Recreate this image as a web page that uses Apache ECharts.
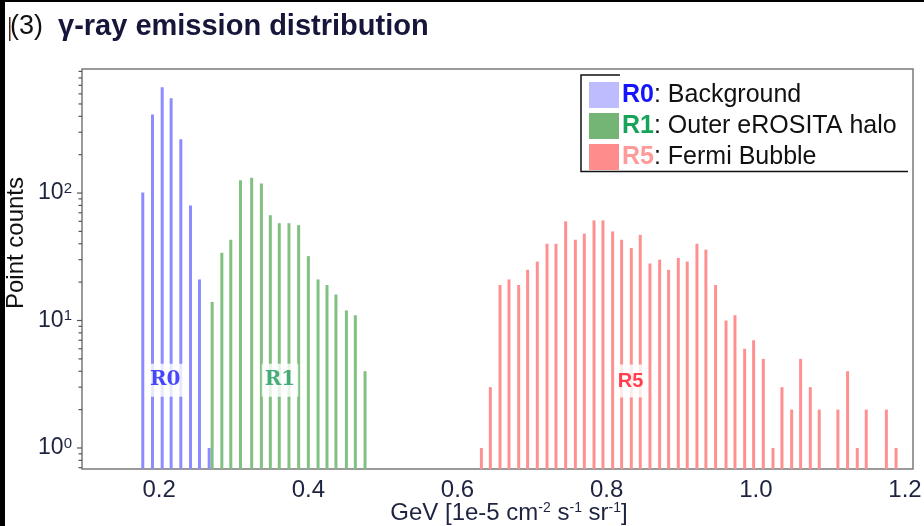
<!DOCTYPE html>
<html>
<head>
<meta charset="utf-8">
<script src="https://cdn.jsdelivr.net/npm/echarts@6/dist/echarts.min.js"></script>
<style>
  html, body { margin: 0; padding: 0; background: #fff; }
  #chart { width: 924px; height: 526px; }
</style>
</head>
<body>
<div id="chart"></div>
<script>
// Histogram bin centres (flux, 1e-5 cm^-2 s^-1 sr^-1) and point counts per region
const r0Bins = [0.178, 0.191, 0.204, 0.216, 0.229, 0.242, 0.254, 0.267];
const r0Counts = [101, 414, 675, 553, 264, 80, 21, 1];

const r1Bins = [0.271, 0.284, 0.296, 0.309, 0.324, 0.337, 0.349, 0.361, 0.374,
                0.387, 0.400, 0.413, 0.425, 0.437, 0.451, 0.463, 0.476];
const r1Counts = [14, 34, 43, 126, 132, 119, 67, 58, 58, 56, 32, 21, 19, 16, 12, 11, 4];

const r5Bins = [0.632, 0.644, 0.657, 0.669, 0.682, 0.694, 0.707, 0.720, 0.732, 0.745,
                0.758, 0.770, 0.783, 0.795, 0.808, 0.820, 0.833, 0.845, 0.858, 0.871,
                0.883, 0.896, 0.908, 0.921, 0.933, 0.946, 0.960, 0.972, 0.985, 0.997,
                1.010, 1.023, 1.035, 1.048, 1.060, 1.073, 1.085, 1.110, 1.123, 1.136,
                1.148, 1.175, 1.188];
const r5Counts = [1, 3, 19, 21, 19, 25, 29, 40, 40, 60,
                  43, 48, 61, 61, 50, 43, 37, 47, 28, 30,
                  25, 31, 29, 40, 36, 19, 10, 11, 6, 7,
                  5, 1, 3, 2, 5, 3, 2, 2, 4, 1,
                  2, 2, 1];

// Axis ticks
const xTicks = [0.2, 0.4, 0.6, 0.8, 1.0, 1.2];
const yMajorTicks = [1, 10, 100];
const yMinorTicks = [0.7, 0.8, 0.9, 2, 3, 4, 5, 6, 7, 8, 9,
                     20, 30, 40, 50, 60, 70, 80, 90, 200, 300, 400, 500, 600, 700, 800, 900];

// Region names, descriptions and in-plot tags
const regionNames = ['R0', 'R1', 'R5'];
const regionDesc = ['Background', 'Outer eROSITA halo', 'Fermi Bubble'];
const tagPositions = [[0.208, 3.4], [0.362, 3.4], [0.832, 3.35]];

const X_MIN = 0.0965, X_MAX = 1.2107;
const Y_MIN = 0.684, Y_MAX = 940;

const barColors = ['#8c8cff', '#80c080', '#ff9090'];
const swatchColors = ['#bcbcff', '#74b474', '#ff8c8c'];
const nameColors = ['#1414ff', '#17a45a', '#ff9a9a'];
const tagColors = ['#1a1aff', '#1a9a5a', '#ff1020'];
const tagFonts = ['DejaVu Serif', 'DejaVu Serif', 'Liberation Sans'];

function pairs(xs, ys) { return xs.map((x, i) => [x, ys[i]]); }

function barRenderer(color) {
  return function (params, api) {
    const p = api.coord([api.value(0), api.value(1)]);
    const cs = params.coordSys;
    const bottom = cs.y + cs.height;
    return {
      type: 'rect',
      shape: { x: p[0] - 1.5, y: p[1], width: 3, height: bottom - p[1] },
      style: { fill: color }
    };
  };
}

function tickRenderer(len) {
  return function (params, api) {
    const p = api.coord([api.value(0), api.value(1)]);
    const x0 = params.coordSys.x;
    return {
      type: 'line',
      shape: { x1: x0 - len, y1: p[1], x2: x0, y2: p[1] },
      style: { stroke: '#555', lineWidth: 1.2 }
    };
  };
}

const seriesData = [pairs(r0Bins, r0Counts), pairs(r1Bins, r1Counts), pairs(r5Bins, r5Counts)];

const series = [];
regionNames.forEach((name, i) => {
  series.push({
    name: name,
    type: 'custom',
    renderItem: barRenderer(barColors[i]),
    encode: { x: 0, y: 1 },
    itemStyle: { color: swatchColors[i] },
    data: seriesData[i],
    silent: true,
    z: 2
  });
});

// Log-spaced ticks on the count axis
series.push({
  name: 'majorTicks', type: 'custom', renderItem: tickRenderer(5), encode: { x: 0, y: 1 },
  data: yMajorTicks.map(v => [X_MIN, v]), silent: true, clip: false, z: 3
});
series.push({
  name: 'minorTicks', type: 'custom', renderItem: tickRenderer(3.5), encode: { x: 0, y: 1 },
  data: yMinorTicks.map(v => [X_MIN, v]), silent: true, clip: false, z: 3
});

// Region tags inside the plot
regionNames.forEach((name, i) => {
  series.push({
    name: 'tag' + name,
    type: 'scatter',
    symbolSize: 0,
    silent: true,
    z: 5,
    data: [{ value: tagPositions[i], name: name }],
    label: {
      show: true,
      position: 'inside',
      formatter: '{b}',
      color: tagColors[i],
      fontFamily: tagFonts[i],
      fontWeight: 'bold',
      fontSize: 20,
      backgroundColor: '#fff',
      padding: [7, 3, 6, 3]
    }
  });
});

const legendRich = { t: { color: '#111', fontSize: 25, fontFamily: 'Liberation Sans' } };
regionNames.forEach((n, i) => {
  legendRich[n] = { color: nameColors[i], fontWeight: 'bold', fontSize: 25, fontFamily: 'Liberation Sans' };
});

const chart = echarts.init(document.getElementById('chart'), null, { renderer: 'canvas' });
chart.setOption({
  animation: false,
  backgroundColor: '#fff',
  title: {
    text: '{n|(3)}{b|γ-ray emission distribution}',
    left: 10,
    top: 12,
    padding: 0,
    textStyle: {
      rich: {
        n: { fontSize: 27, fontWeight: 'normal', color: '#111', fontFamily: 'Liberation Sans', padding: [0, 15, 0, 0] },
        b: { fontSize: 29, fontWeight: 'bold', color: '#16163a', fontFamily: 'Liberation Sans' }
      }
    }
  },
  legend: {
    orient: 'vertical',
    left: 589,
    top: 82,
    padding: 0,
    itemWidth: 30,
    itemHeight: 26,
    itemGap: 5,
    selectedMode: false,
    icon: 'rect',
    data: regionNames.map((n, i) => ({ name: n, icon: 'rect', itemStyle: { color: swatchColors[i] } })),
    formatter: function (name) {
      const i = regionNames.indexOf(name);
      return '{' + name + '|' + name + '}{t|: ' + regionDesc[i] + '}';
    },
    textStyle: { rich: legendRich, padding: [0, 0, 0, -2] }
  },
  grid: {
    left: 82, right: 11, top: 69, bottom: 57,
    show: true,
    borderColor: '#7a7a7a',
    borderWidth: 1.5,
    backgroundColor: 'transparent',
    outerBoundsMode: 'none'
  },
  xAxis: {
    type: 'value',
    min: X_MIN,
    max: X_MAX,
    splitLine: { show: false },
    axisLine: { show: false },
    axisTick: { show: false },
    axisLabel: {
      margin: 9,
      fontSize: 24,
      color: '#1e2440',
      fontFamily: 'Liberation Sans',
      formatter: function (v) {
        const hit = xTicks.find(t => Math.abs(t - v) < 1e-6);
        return hit === undefined ? '' : hit.toFixed(1);
      }
    },
    name: 'GeV [1e-5 cm{s|-2} s{s|-1} sr{s|-1}]',
    nameLocation: 'middle',
    nameGap: 32,
    nameMoveOverlap: false,
    nameTextStyle: {
      fontSize: 24,
      color: '#1e2440',
      fontFamily: 'Liberation Sans',
      padding: [0, 0, 0, 23],
      rich: {
        s: { fontSize: 14, verticalAlign: 'top', lineHeight: 14, padding: [0, 0, 8, 0], fontFamily: 'Liberation Sans', color: '#1e2440' }
      }
    }
  },
  yAxis: {
    type: 'log',
    logBase: 10,
    min: Y_MIN,
    max: Y_MAX,
    splitLine: { show: false },
    axisLine: { show: false },
    axisTick: { show: false },
    minorTick: { show: false },
    axisLabel: {
      margin: 10,
      color: '#1e2440',
      fontFamily: 'Liberation Sans',
      formatter: function (v) {
        const lg = Math.log10(v);
        const e = Math.round(lg);
        if (Math.abs(lg - e) > 1e-6 || yMajorTicks.indexOf(Math.pow(10, e)) < 0) return '';
        return '{b|10}{s|' + e + '}';
      },
      rich: {
        b: { fontSize: 23, color: '#1e2440', fontFamily: 'Liberation Sans' },
        s: { fontSize: 15, color: '#1e2440', fontFamily: 'Liberation Sans', verticalAlign: 'top', padding: [0, 0, 9, 0] }
      }
    },
    name: 'Point counts',
    nameLocation: 'middle',
    nameGap: 54,
    nameMoveOverlap: false,
    nameTextStyle: {
      fontSize: 24,
      color: '#111',
      fontFamily: 'Liberation Sans',
      padding: [0, 0, 0, 52]
    }
  },
  graphic: [
    { type: 'rect', left: 0, top: 0, shape: { width: 5, height: 526 }, style: { fill: '#000' }, silent: true },
    { type: 'rect', left: 0, top: 0, shape: { width: 924, height: 2 }, style: { fill: '#000' }, silent: true },
    { type: 'rect', left: 9, top: 17, shape: { width: 1.5, height: 24 }, style: { fill: '#4a2a10' }, silent: true },
    {
      type: 'polyline', silent: true, z: 10,
      shape: { points: [[620, 75], [581, 75], [581, 171.5], [908, 171.5]] },
      style: { stroke: '#111', lineWidth: 1.5, fill: null }
    }
  ],
  series: series
});
</script>
</body>
</html>
